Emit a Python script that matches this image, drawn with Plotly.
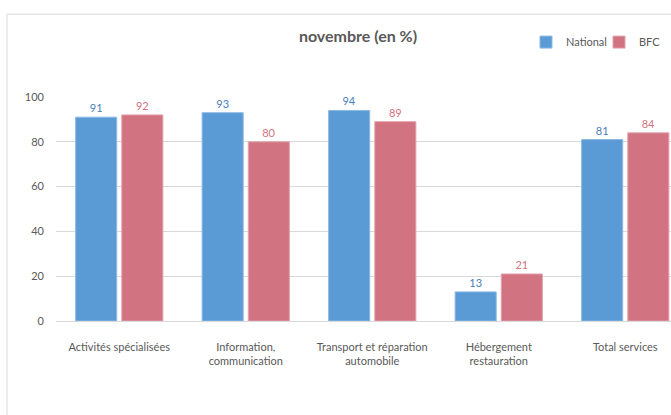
import plotly.graph_objects as go

categories = ["Activités spécialisées", "Information,<br>communication",
              "Transport et réparation<br>automobile", "Hébergement<br>restauration",
              "Total services"]
national = [91, 93, 94, 13, 81]
bfc = [92, 80, 89, 21, 84]
y_ticks = [0, 20, 40, 60, 80, 100]

BLUE = "#5B9BD5"
RED = "#D17381"
FONT = "Lato"

fig = go.Figure()
fig.add_trace(go.Bar(x=list(range(len(categories))), y=national, name="National",
                     marker=dict(color=BLUE, line=dict(color="#8DB9E4", width=1)),
                     text=national, textposition="outside", cliponaxis=False,
                     textfont=dict(color="#4A7EBB", size=11, family=FONT)))
fig.add_trace(go.Bar(x=list(range(len(categories))), y=bfc, name="BFC",
                     marker=dict(color=RED, line=dict(color="#E3A3AD", width=1)),
                     text=bfc, textposition="outside", cliponaxis=False,
                     textfont=dict(color="#D17381", size=11, family=FONT)))

L, T, B = 56, 97, 93.5
W, H = 671, 415
pw = W - L
ph = H - T - B

fig.update_layout(
    width=W, height=H,
    margin=dict(l=L, r=0, t=T, b=B, autoexpand=False),
    paper_bgcolor="white", plot_bgcolor="white",
    font=dict(family=FONT, color="#595959", size=11),
    barmode="group", bargap=0.27, bargroupgap=0.11,
    showlegend=True,
    legend=dict(orientation="h", x=(526 - L) / pw, y=(H - B - 42) / ph,
                xanchor="left", yanchor="middle", font=dict(size=11, color="#595959"),
                itemwidth=30, entrywidth=28, tracegroupgap=0, bgcolor="rgba(0,0,0,0)"),
    title=dict(text="<b>novembre (en %)</b>", x=358 / W, xref="container",
               xanchor="center", y=1 - 36 / H, yanchor="middle",
               font=dict(size=16, color="#595959", family=FONT)),
    xaxis=dict(tickmode="array", tickvals=list(range(len(categories))), ticktext=categories,
               range=[-0.5, -0.5 + pw / 126.5], showgrid=False, zeroline=False,
               showline=False, ticks="", ticklabelstandoff=18,
               tickfont=dict(size=11, color="#595959")),
    yaxis=dict(range=[0, 100], tickvals=y_ticks, showgrid=True, gridcolor="#D9D9D9",
               gridwidth=1, zeroline=True, zerolinecolor="#D9D9D9", zerolinewidth=1,
               showline=False, ticks="", ticklabelstandoff=11,
               tickfont=dict(size=11, color="#595959")),
    shapes=[dict(type="rect", xref="paper", yref="paper",
                 x0=(7 - L) / pw, x1=1.5, y0=-1, y1=(H - B - 14) / ph,
                 line=dict(color="#D9D9D9", width=1), fillcolor="rgba(0,0,0,0)",
                 layer="below")],
)

fig.write_html("out.html", config={"displayModeBar": False},
               post_script="document.body.style.margin='0px';document.body.style.overflow='hidden';")
